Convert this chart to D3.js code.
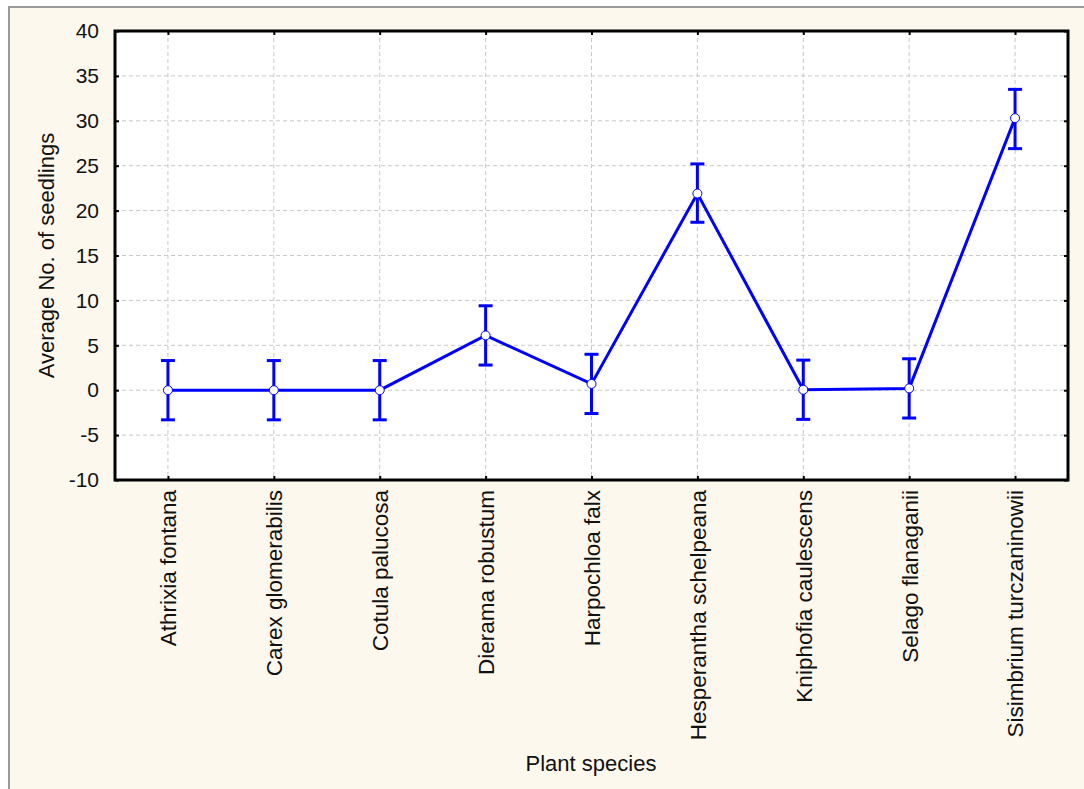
<!DOCTYPE html>
<html><head><meta charset="utf-8">
<script src="https://cdn.jsdelivr.net/npm/d3@7"></script>
<style>html,body{margin:0;padding:0;background:#fff;}svg{display:block;}</style>
</head><body>
<svg id="chart" width="1084" height="789"></svg>
<script>
const species = ["Athrixia fontana","Carex glomerabilis","Cotula palucosa","Dierama robustum","Harpochloa falx","Hesperantha schelpeana","Kniphofia caulescens","Selago flanaganii","Sisimbrium turczaninowii"];
const means = [0.0, 0.0, 0.0, 6.1, 0.7, 21.9, 0.05, 0.2, 30.3];
const upper = [3.3, 3.3, 3.3, 9.4, 4.0, 25.2, 3.35, 3.5, 33.5];
const lower = [-3.3, -3.3, -3.3, 2.8, -2.6, 18.7, -3.25, -3.1, 26.9];
const yTicks = [-10,-5,0,5,10,15,20,25,30,35,40];
const yTitle = "Average No. of seedlings";
const xTitle = "Plant species";

const svg = d3.select("#chart");
const W = 1084, H = 789;
const m = {left:115, top:31, right:1068, bottom:480};
const blue = "#0000FF";
const font = "Arial, 'Liberation Sans', sans-serif";
const ink = "#111";

svg.append("rect").attr("x",9).attr("y",7).attr("width",W).attr("height",H)
  .attr("fill","#FDF8EE").attr("stroke","#9a9a9a").attr("stroke-width",2);

const x = d3.scalePoint().domain(species).range([m.left, m.right]).padding(0.5);
const y = d3.scaleLinear().domain([-10,40]).range([m.bottom, m.top]);

svg.append("rect").attr("x",m.left).attr("y",m.top).attr("width",m.right-m.left).attr("height",m.bottom-m.top).attr("fill","#fff");

// grid
const grid = svg.append("g").attr("stroke","#c8c8c8").attr("stroke-width",1).attr("stroke-dasharray","4,3");
grid.selectAll("line.h").data(yTicks.slice(1,-1)).join("line").attr("class","h")
  .attr("x1",m.left).attr("x2",m.right).attr("y1",d=>y(d)).attr("y2",d=>y(d));
grid.selectAll("line.v").data(species).join("line").attr("class","v")
  .attr("y1",m.top).attr("y2",m.bottom).attr("x1",d=>x(d)).attr("x2",d=>x(d));

// axes
const yAxisL = d3.axisLeft(y).tickValues(yTicks).tickSize(-4).tickPadding(16).tickFormat(d=>String(d));
const gL = svg.append("g").attr("transform",`translate(${m.left},0)`).call(yAxisL);
gL.select(".domain").remove();
gL.selectAll("line").attr("stroke","#000").attr("stroke-width",2);
gL.selectAll("text").attr("font-family",font).attr("font-size",21).attr("fill",ink);

const gR = svg.append("g").attr("transform",`translate(${m.right},0)`).call(d3.axisRight(y).tickValues(yTicks).tickSize(-4).tickFormat(""));
gR.select(".domain").remove();
gR.selectAll("line").attr("stroke","#000").attr("stroke-width",2);

const gB = svg.append("g").attr("transform",`translate(0,${m.bottom})`).call(d3.axisBottom(x).tickSize(-4).tickPadding(12));
gB.select(".domain").remove();
gB.selectAll("line").attr("stroke","#000").attr("stroke-width",2);
gB.selectAll("text").attr("font-family",font).attr("font-size",22.5).attr("fill",ink)
  .attr("transform","rotate(-90)").attr("text-anchor","end").attr("dy","0.35em")
  .attr("x",-10).attr("y",0);

const gT = svg.append("g").attr("transform",`translate(0,${m.top})`).call(d3.axisTop(x).tickSize(-4).tickFormat(""));
gT.select(".domain").remove();
gT.selectAll("line").attr("stroke","#000").attr("stroke-width",2);

// frame
svg.append("rect").attr("x",m.left).attr("y",m.top).attr("width",m.right-m.left).attr("height",m.bottom-m.top)
  .attr("fill","none").attr("stroke","#000").attr("stroke-width",3);

// line
const line = d3.line().x((d,i)=>x(species[i])).y(d=>y(d));
svg.append("path").datum(means).attr("d",line).attr("fill","none").attr("stroke",blue).attr("stroke-width",3);

// error bars
const eb = svg.append("g").attr("stroke",blue).attr("stroke-width",3);
species.forEach((s,i)=>{
  const cx = x(s);
  eb.append("line").attr("x1",cx).attr("x2",cx).attr("y1",y(upper[i])).attr("y2",y(lower[i]));
  eb.append("line").attr("x1",cx-7).attr("x2",cx+7).attr("y1",y(upper[i])).attr("y2",y(upper[i]));
  eb.append("line").attr("x1",cx-7).attr("x2",cx+7).attr("y1",y(lower[i])).attr("y2",y(lower[i]));
});

svg.append("g").selectAll("circle").data(means).join("circle")
  .attr("cx",(d,i)=>x(species[i])).attr("cy",d=>y(d)).attr("r",4.5)
  .attr("fill","#fff").attr("stroke",blue).attr("stroke-width",1);

// titles
svg.append("text").attr("transform",`translate(54,${(m.top+m.bottom)/2}) rotate(-90)`)
  .attr("text-anchor","middle").attr("font-family",font).attr("font-size",22).attr("fill",ink).text(yTitle);
svg.append("text").attr("x",591).attr("y",771).attr("text-anchor","middle")
  .attr("font-family",font).attr("font-size",22).attr("fill",ink).text(xTitle);
</script>
</body></html>
